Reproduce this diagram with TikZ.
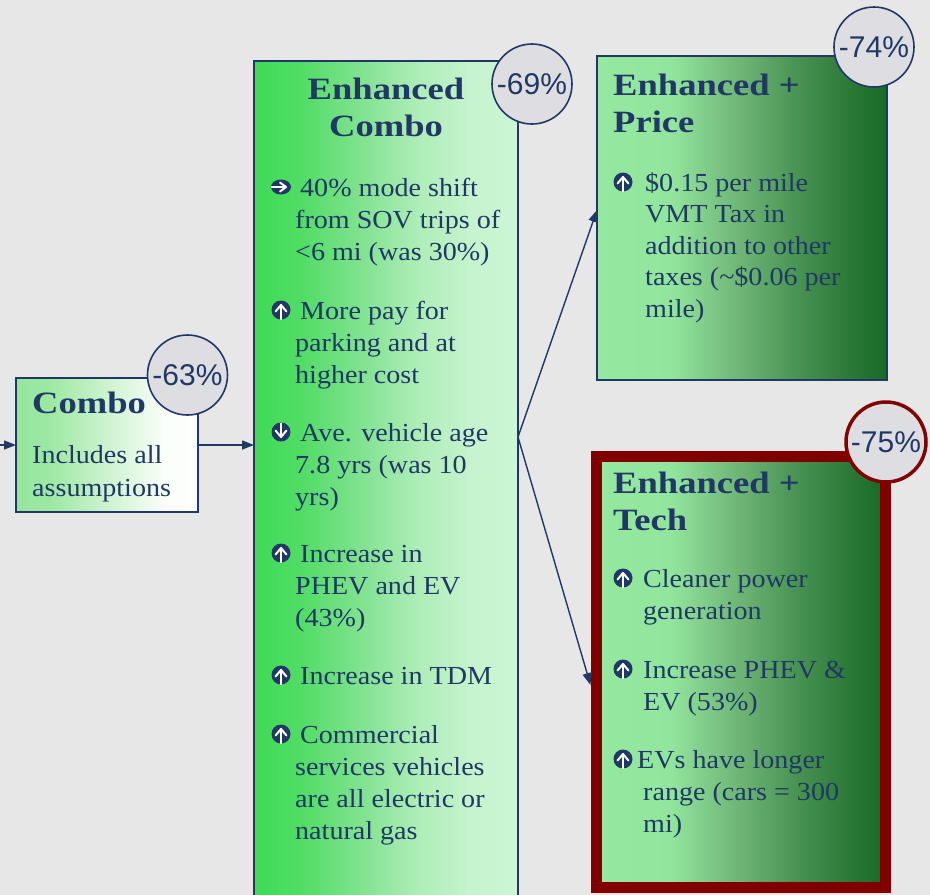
\documentclass[tikz,border=0pt]{standalone}
\usepackage{fontspec}
\setmainfont{Liberation Serif}[FakeStretch=1.08]
\newfontfamily\headfont{Liberation Serif}[FakeStretch=1.18]
\newfontfamily\pctfont{Liberation Sans}
\usetikzlibrary{arrows.meta}

\definecolor{navy}{HTML}{1F3864}
\definecolor{pagebg}{HTML}{E7E7E7}
\definecolor{badgebg}{HTML}{DEDEE2}
\definecolor{darkred}{HTML}{800000}

% horizontal fills; the box spans 25bp..75bp of each shading
\pgfdeclarehorizontalshading{combofill}{100bp}{%
  color(0bp)=(rgb,255:red,150;green,230;blue,158);
  color(25bp)=(rgb,255:red,150;green,230;blue,158);
  color(34bp)=(rgb,255:red,156;green,232;blue,163);
  color(51bp)=(rgb,255:red,208;green,244;blue,211);
  color(66bp)=(rgb,255:red,250;green,254;blue,250);
  color(75bp)=(white); color(100bp)=(white)}
\pgfdeclarehorizontalshading{enhfill}{100bp}{%
  color(0bp)=(rgb,255:red,62;green,219;blue,86);
  color(25bp)=(rgb,255:red,62;green,219;blue,86);
  color(34bp)=(rgb,255:red,82;green,220;blue,102);
  color(45bp)=(rgb,255:red,128;green,226;blue,143);
  color(56bp)=(rgb,255:red,174;green,237;blue,184);
  color(66bp)=(rgb,255:red,198;green,243;blue,205);
  color(75bp)=(rgb,255:red,205;green,246;blue,215);
  color(100bp)=(rgb,255:red,205;green,246;blue,215)}
\pgfdeclarehorizontalshading{darkfill}{100bp}{%
  color(0bp)=(rgb,255:red,149;green,232;blue,160);
  color(25bp)=(rgb,255:red,149;green,232;blue,160);
  color(38bp)=(rgb,255:red,146;green,229;blue,156);
  color(42bp)=(rgb,255:red,134;green,211;blue,143);
  color(50.5bp)=(rgb,255:red,107;green,178;blue,115);
  color(59bp)=(rgb,255:red,74;green,149;blue,85);
  color(68bp)=(rgb,255:red,46;green,122;blue,57);
  color(75bp)=(rgb,255:red,24;green,106;blue,38);
  color(100bp)=(rgb,255:red,24;green,106;blue,38)}

\tikzset{
  box/.style={draw=navy, line width=2pt, inner sep=0pt, outer sep=0pt, anchor=north west},
  conn/.style={draw=navy, line width=1.4pt, -{Triangle[length=12pt,width=9pt]}},
  bodytext/.style={anchor=north west, inner sep=0pt, align=left, text=navy,
    font=\fontsize{26}{32}\selectfont},
  headtext/.style={anchor=north west, inner sep=0pt, align=left, text=navy,
    font=\headfont\bfseries\fontsize{31}{37}\selectfont},
  badge/.style={circle, draw=navy, line width=1.6pt, fill=badgebg,
    minimum size=80pt, inner sep=0pt, text=navy,
    font=\pctfont\fontsize{30}{36}\selectfont},
  upmark/.pic={
    \fill[navy] (0,0) circle (9.5);
    \draw[white, line width=2.2pt] (0,9.5) -- (0,-3);
    \draw[white, line width=2pt, line join=round, line cap=round] (-5.5,1.5) -- (0,-5) -- (5.5,1.5);
  },
  rightmark/.pic={
    \fill[navy] (0,0) ellipse (10 and 7.5);
    \draw[white, line width=2.2pt] (-10,0) -- (3.5,0);
    \draw[white, line width=2pt, line join=round, line cap=round] (-1,-4.5) -- (5,0) -- (-1,4.5);
  }
}

\begin{document}
\begin{tikzpicture}[x=1pt, y=-1pt]
  \useasboundingbox (0,0) rectangle (930,895);
  \clip (0,0) rectangle (930,895);
  \fill[pagebg] (0,0) rectangle (930,895);

  % boxes
  \node[box, shading=combofill, minimum width=182pt, minimum height=134pt] (combo) at (16,378) {};
  \node[box, shading=enhfill, minimum width=264pt, minimum height=850pt] (enh) at (254,61) {};
  \node[box, shading=darkfill, minimum width=290pt, minimum height=324pt] (price) at (597,56) {};
  \node[box, draw=darkred, line width=11pt, shading=darkfill,
        minimum width=289pt, minimum height=431pt] (tech) at (596.5,456.5) {};

  % connectors
  \coordinate (src) at (0,445);
  \coordinate (split) at (518,437);
  \draw[conn] (src) -- (combo.west);
  \draw[conn] (combo.east) -- (enh.west |- combo.east);
  \draw[conn] (split) -- ([yshift=8pt]price.west);
  \draw[conn] (split) -- ([xshift=-6pt,yshift=-13pt]tech.west);

  % Combo
  \node[headtext] (comboT) at (32,387.1) {\strut Combo};
  \node[bodytext, font=\fontsize{26}{33}\selectfont] (comboB) at (32,439.9) {\strut Includes all\\assumptions};

  % Enhanced Combo
  \node[headtext, anchor=north, align=center] (enhT) at (386,73.1) {\strut Enhanced\\Combo};
  \pic at (281,187) {rightmark};
  \node[bodytext] (e1) at (295,173.6) {\strut\hspace*{5pt}40\% mode shift\\from SOV trips of\\<6 mi (was 30\%)};
  \pic at (281,310) {upmark};
  \node[bodytext] (e2) at (295,296.6) {\strut\hspace*{5pt}More pay for\\parking and at\\higher cost};
  \pic[rotate=180] at (281,432) {upmark};
  \node[bodytext] (e3) at (295,418.6) {\strut\hspace*{5pt}Ave. vehicle age\\7.8 yrs (was 10\\yrs)};
  \pic at (281,553) {upmark};
  \node[bodytext] (e4) at (295,539.6) {\strut\hspace*{5pt}Increase in\\PHEV and EV\\(43\%)};
  \pic at (281,675) {upmark};
  \node[bodytext] (e5) at (300,661.6) {\strut Increase in TDM};
  \pic at (281,734) {upmark};
  \node[bodytext] (e6) at (295,720.6) {\strut\hspace*{5pt}Commercial\\services vehicles\\are all electric or\\natural gas};

  % Enhanced + Price
  \node[headtext] (priceT) at (613,69.1) {\strut Enhanced +\\Price};
  \pic at (623,182) {upmark};
  \node[bodytext, font=\fontsize{26}{31.5}\selectfont] (p1) at (645,169) {\strut \$0.15 per mile\\VMT Tax in\\addition to other\\taxes (\textasciitilde\$0.06 per\\mile)};

  % Enhanced + Tech
  \node[headtext] (techT) at (613,467.1) {\strut Enhanced +\\Tech};
  \pic at (623,578) {upmark};
  \node[bodytext] (t1) at (643,564.6) {\strut Cleaner power\\generation};
  \pic at (623,669) {upmark};
  \node[bodytext] (t2) at (643,655.6) {\strut Increase PHEV \&\\EV (53\%)};
  \pic at (623,759) {upmark};
  \node[bodytext] (t3) at (643,745.6) {\strut\hspace*{-6pt}EVs have longer\\range (cars = 300\\mi)};

  % reduction badges
  \node[badge] (b63) at (187.5,375) {-63\%};
  \node[badge] (b69) at (532,84) {-69\%};
  \node[badge] (b74) at (874,47) {-74\%};
  \node[badge, draw=darkred, line width=3.5pt] (b75) at (886,442) {-75\%};
\end{tikzpicture}
\end{document}
